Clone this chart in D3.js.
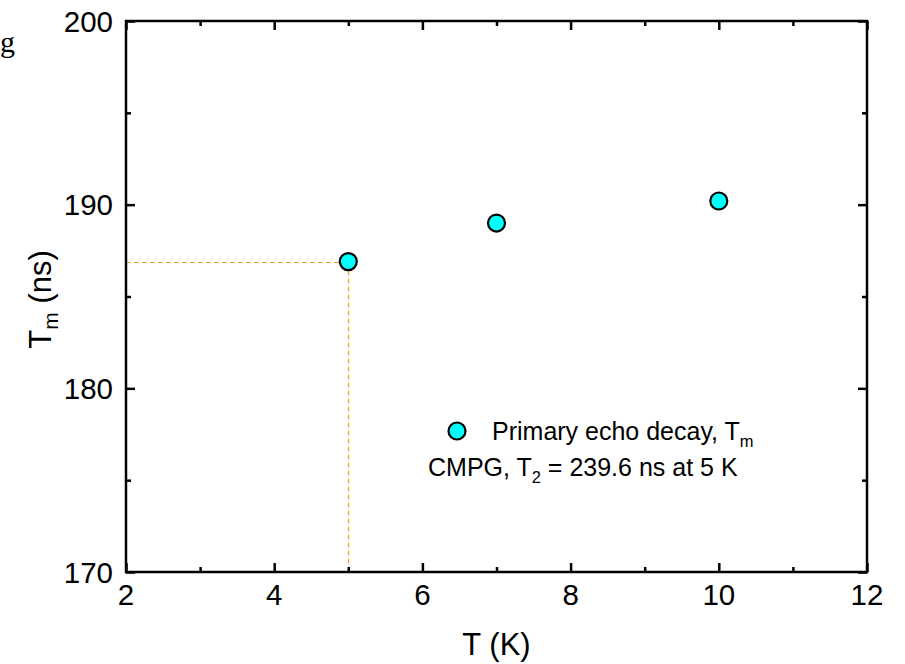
<!DOCTYPE html>
<html>
<head>
<meta charset="utf-8">
<script src="https://cdn.jsdelivr.net/npm/d3@7"></script>
<style>
  html, body { margin: 0; padding: 0; background: #fff; }
  svg { display: block; }
  text { font-family: "Liberation Sans", Arial, sans-serif; fill: #000; }
</style>
</head>
<body>
<svg id="chart" width="905" height="664"></svg>
<script>
// Phase memory time versus temperature
const temperatures = [5, 7, 10];
const tmValues = [186.9, 189.0, 190.2];
const xTicks = [2, 4, 6, 8, 10, 12];
const xMinorTicks = [3, 5, 7, 9, 11];
const yTicks = [170, 180, 190, 200];
const yMinorTicks = [175, 185, 195];
const guideT = 5;
const guideTm = 186.9;
const seriesLabel = "Primary echo decay, T";
const seriesSub = "m";
const cmpgText = ["CMPG, T", "2", " = 239.6 ns at 5 K"];

const svg = d3.select("#chart");
const plotLeft = 126, plotRight = 867, plotTop = 21, plotBottom = 572;

const x = d3.scaleLinear().domain([2, 12]).range([plotLeft, plotRight]);
const y = d3.scaleLinear().domain([170, 200]).range([plotBottom, plotTop]);

const majorLen = 9, minorLen = 5;

// guide lines to the 5 K point
const orange = "#F5A02A";
const gx = Math.round(x(guideT)) + 0.5;
const gy = Math.round(y(guideTm)) + 0.5;
svg.append("line")
  .attr("x1", x(2)).attr("x2", gx)
  .attr("y1", gy).attr("y2", gy)
  .attr("stroke", orange).attr("stroke-width", 1.2)
  .attr("stroke-dasharray", "5,3");
svg.append("line")
  .attr("x1", gx).attr("x2", gx)
  .attr("y1", gy).attr("y2", y(170))
  .attr("stroke", orange).attr("stroke-width", 1.2)
  .attr("stroke-dasharray", "5,3");

// axes: inward ticks on all four sides
function tickAxis(axisFn, scale, ticks, len) {
  return axisFn(scale).tickValues(ticks).tickSize(-len).tickFormat("").tickSizeOuter(0);
}
const axisSpecs = [
  [d3.axisBottom, x, `translate(0,${plotBottom})`],
  [d3.axisTop, x, `translate(0,${plotTop})`],
  [d3.axisLeft, y, `translate(${plotLeft},0)`],
  [d3.axisRight, y, `translate(${plotRight},0)`]
];
axisSpecs.forEach(([fn, scale, tr]) => {
  const major = scale === x ? xTicks : yTicks;
  const minor = scale === x ? xMinorTicks : yMinorTicks;
  svg.append("g").attr("transform", tr).call(tickAxis(fn, scale, major, majorLen));
  svg.append("g").attr("transform", tr).call(tickAxis(fn, scale, minor, minorLen));
});

svg.selectAll(".domain").remove();
svg.selectAll(".tick line").attr("stroke", "#000").attr("stroke-width", 2.5);

// frame
svg.append("rect")
  .attr("x", plotLeft).attr("y", plotTop)
  .attr("width", plotRight - plotLeft).attr("height", plotBottom - plotTop)
  .attr("fill", "none").attr("stroke", "#000").attr("stroke-width", 2.5);

// tick labels
svg.append("g").selectAll("text").data(xTicks).join("text")
  .attr("x", d => x(d)).attr("y", plotBottom + 33)
  .attr("text-anchor", "middle").attr("font-size", 29.5)
  .text(d => d);
svg.append("g").selectAll("text").data(yTicks).join("text")
  .attr("x", plotLeft - 13).attr("y", d => y(d) + 10.5)
  .attr("text-anchor", "end").attr("font-size", 29.5)
  .text(d => d);

// axis titles
svg.append("text")
  .attr("x", (plotLeft + plotRight) / 2).attr("y", 655)
  .attr("text-anchor", "middle").attr("font-size", 31)
  .text("T (K)");
const yt = svg.append("text")
  .attr("transform", `translate(51,${(plotTop + plotBottom) / 2 + 3}) rotate(-90)`)
  .attr("text-anchor", "middle").attr("font-size", 31);
yt.append("tspan").text("T");
yt.append("tspan").attr("font-size", 21).attr("dy", 7).text("m");
yt.append("tspan").attr("dy", -7).text(" (ns)");

// data points
svg.append("g").selectAll("circle").data(temperatures.map((t, i) => [t, tmValues[i]])).join("circle")
  .attr("cx", d => x(d[0])).attr("cy", d => y(d[1]))
  .attr("r", 8.5)
  .attr("fill", "#00FFFF").attr("stroke", "#000").attr("stroke-width", 2.2);

// legend
svg.append("circle")
  .attr("cx", 457).attr("cy", 431).attr("r", 8.5)
  .attr("fill", "#00FFFF").attr("stroke", "#000").attr("stroke-width", 2.2);
const lt = svg.append("text").attr("x", 492).attr("y", 440).attr("font-size", 25);
lt.append("tspan").text(seriesLabel);
lt.append("tspan").attr("font-size", 16.5).attr("dy", 7).text(seriesSub);
const ct = svg.append("text").attr("x", 428).attr("y", 476).attr("font-size", 25);
ct.append("tspan").text(cmpgText[0]);
ct.append("tspan").attr("font-size", 16.5).attr("dy", 7).text(cmpgText[1]);
ct.append("tspan").attr("dy", -7).text(cmpgText[2]);

// panel letter
svg.append("text")
  .attr("x", 0).attr("y", 52)
  .style("font-family", "'Liberation Serif', 'Times New Roman', serif")
  .attr("font-size", 30)
  .text("g");
</script>
</body>
</html>
